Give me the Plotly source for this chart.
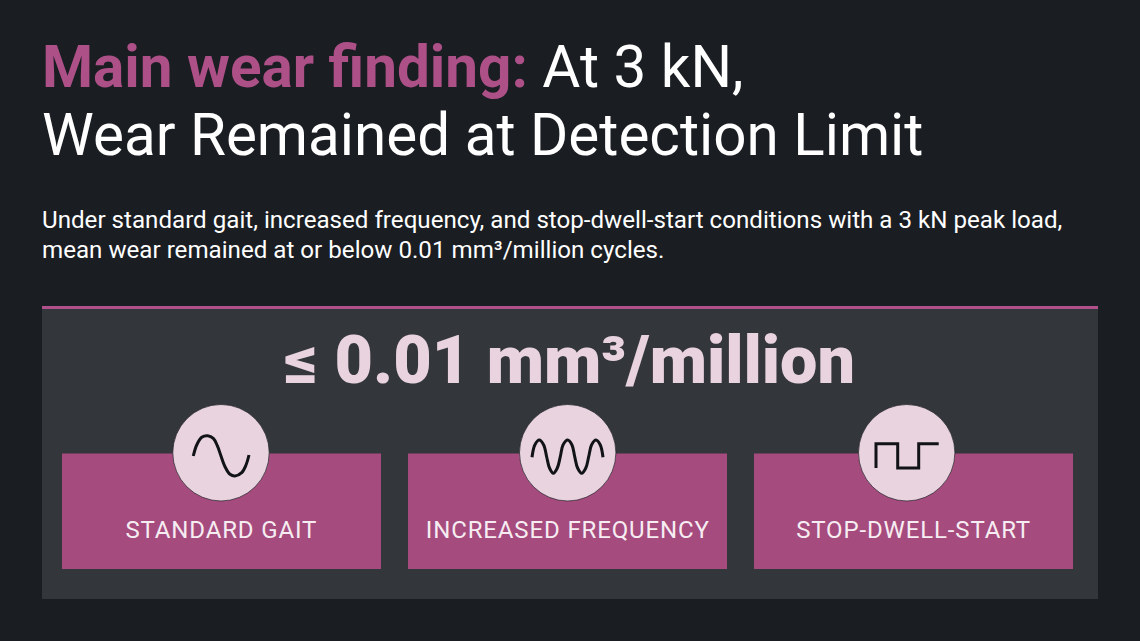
import plotly.graph_objects as go

BG = "#1a1d22"
PANEL = "#33363b"
PINK = "#a64b7e"
TITLE_PINK = "#ad5088"
BAND_PINK = "#b0508a"
LIGHT = "#e8d3df"

labels = ["STANDARD GAIT", "INCREASED FREQUENCY", "STOP-DWELL-START"]
standard_x = [193.3, 196.7, 201.7, 207.7, 213.3, 217.3, 221, 225, 230, 235, 241.7, 246, 249]
standard_y = [456, 445, 437.3, 435.7, 438.3, 445.7, 456, 466.7, 474.3, 476, 472.7, 465, 455]
increased_x = [532, 534.8, 539.3, 543.7, 546.7, 549.5, 553.3, 557.3, 560.3, 563, 567.7, 572, 574.7,
               577.6, 581.7, 585.8, 588.7, 591.5, 596, 600.3, 603]
increased_y = [457.3, 445, 440, 445, 457, 468, 473.3, 468, 456.7, 445, 440, 445, 456.7,
               468, 473.3, 468, 456.7, 445, 440, 445, 457.3]
dwell_x = [876, 876, 897.7, 897.7, 918.7, 918.7, 938.7]
dwell_y = [468, 443.7, 443.7, 468, 468, 443.7, 443.7]

tiles = [(62, 381, 221), (408, 727, 567.7), (754, 1073, 906.7)]

fig = go.Figure()
for xs, ys, shape in [
    (standard_x, standard_y, "spline"),
    (increased_x, increased_y, "spline"),
    (dwell_x, dwell_y, "linear"),
]:
    fig.add_trace(go.Scatter(x=xs, y=ys, mode="lines", line=dict(color="#111317", width=3, shape=shape),
                             hoverinfo="skip", showlegend=False))

shapes = [
    dict(type="rect", x0=42, x1=1098, y0=306, y1=599, fillcolor=PANEL, line_width=0, layer="below"),
    dict(type="rect", x0=42, x1=1098, y0=306, y1=309, fillcolor=BAND_PINK, line_width=0, layer="below"),
]
annotations = []
F = "Roboto, sans-serif"
for (x0, x1, cx), lab in zip(tiles, labels):
    shapes.append(dict(type="rect", x0=x0, x1=x1, y0=453.5, y1=569, fillcolor=PINK, line_width=0, layer="below"))
    shapes.append(dict(type="circle", x0=cx - 48.2, x1=cx + 48.2, y0=404.5, y1=501, fillcolor=LIGHT,
                       line=dict(color="#1f2126", width=0.7), layer="below"))
    annotations.append(dict(x=(x0 + x1) / 2, y=529.5, text=lab, font=dict(family=F, size=24, color="#f6edf2"),
                            xanchor="center", yanchor="middle", showarrow=False))


def note(x, y, text, size, color="#ffffff", anchor="left", weight=None):
    annotations.append(dict(x=x, y=y, text=text, font=dict(family=F, size=size, color=color, weight=weight),
                            xanchor=anchor, yanchor="middle", showarrow=False, borderpad=0, borderwidth=0))


note(42, 67, f'<span style="color:{TITLE_PINK}"><b>Main wear finding:</b></span> At 3 kN,', 58.4)
note(42, 135, "Wear Remained at Detection Limit", 58.4)
note(42, 219.5, "Under standard gait, increased frequency, and stop-dwell-start conditions with a 3 kN peak load,", 24.15)
note(42, 250, "mean wear remained at or below 0.01 mm³/million cycles.", 24.15)
note(569.5, 359.5, "≤ 0.01 mm³/million", 66.5, LIGHT, "center", 900)

fig.update_layout(
    width=1140, height=641, margin=dict(l=0, r=0, t=0, b=0, pad=0),
    paper_bgcolor=BG, plot_bgcolor=BG, showlegend=False,
    xaxis=dict(range=[0, 1140], visible=False, fixedrange=True),
    yaxis=dict(range=[641, 0], visible=False, fixedrange=True),
    shapes=shapes, annotations=annotations,
)
post = """
document.body.style.margin = '0';
document.body.style.background = '#1a1d22';
document.documentElement.style.overflow = 'hidden';
document.querySelectorAll('.annotation-text').forEach(function (t) {
  if (/^[A-Z -]+$/.test(t.textContent)) { t.style.letterSpacing = '0.86px'; }
});
"""
fig.write_html("out.html", config={"displayModeBar": False}, post_script=post)
